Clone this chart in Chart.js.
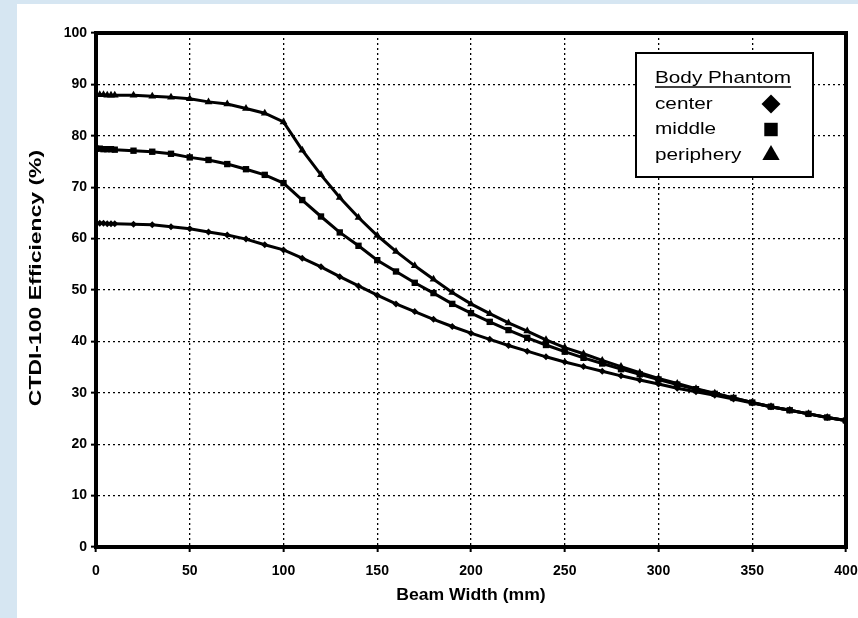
<!DOCTYPE html>
<html>
<head>
<meta charset="utf-8">
<script src="https://cdn.jsdelivr.net/npm/chart.js@4.4.1/dist/chart.umd.min.js"></script>
<style>
  html, body { margin: 0; padding: 0; }
  body { background: #d6e6f2; width: 858px; height: 618px; overflow: hidden; position: relative; }
  #wrap { position: absolute; left: 17px; top: 4px; width: 841px; height: 614px; background: #fff; }
</style>
</head>
<body>
<div id="wrap"><canvas id="ctdiChart" width="841" height="614"></canvas></div>
<script>
// Beam width (mm) sample positions
const beamWidth = [0, 2, 4, 6, 8, 10, 20, 30, 40, 50, 60, 70, 80, 90, 100, 110, 120, 130, 140, 150,
    160, 170, 180, 190, 200, 210, 220, 230, 240, 250, 260, 270, 280, 290, 300, 310, 320, 330, 340,
    350, 360, 370, 380, 390, 400];

// CTDI-100 efficiency (%)
const centerEff = [63.0, 63.0, 63.0, 62.9, 62.9, 62.9, 62.8, 62.7, 62.3, 61.9, 61.3, 60.7, 59.9, 58.8, 57.8,
    56.2, 54.5, 52.6, 50.8, 49.0, 47.3, 45.8, 44.3, 42.9, 41.6, 40.4, 39.2, 38.1, 37.0, 36.0,
    35.1, 34.2, 33.3, 32.5, 31.7, 30.9, 30.2, 29.5, 28.8, 28.0, 27.3, 26.6, 25.9, 25.2, 24.6];
const middleEff = [77.5, 77.5, 77.4, 77.4, 77.4, 77.3, 77.1, 76.9, 76.5, 75.8, 75.3, 74.5, 73.5, 72.4, 70.8,
    67.5, 64.3, 61.2, 58.6, 55.8, 53.6, 51.4, 49.4, 47.3, 45.5, 43.8, 42.2, 40.7, 39.3, 38.0,
    36.8, 35.7, 34.6, 33.6, 32.6, 31.6, 30.7, 29.8, 29.0, 28.1, 27.3, 26.6, 25.9, 25.2, 24.6];
const peripheryEff = [88.0, 88.0, 88.0, 87.9, 87.9, 87.9, 87.9, 87.7, 87.5, 87.2, 86.6, 86.2, 85.3, 84.4, 82.7,
    77.2, 72.4, 68.0, 64.1, 60.6, 57.5, 54.7, 52.1, 49.5, 47.3, 45.4, 43.6, 42.0, 40.3, 38.8,
    37.6, 36.3, 35.1, 33.9, 32.8, 31.8, 30.8, 29.9, 29.0, 28.1, 27.3, 26.6, 25.9, 25.2, 24.6];

const seriesNames = ['center', 'middle', 'periphery'];
const legendTitle = 'Body Phantom';
const xTitle = 'Beam Width (mm)';
const yTitle = 'CTDI-100 Efficiency (%)';

const toPoints = vals => vals.map((v, i) => ({ x: beamWidth[i], y: v }));
const markers = ['rectRot', 'rect', 'triangle'];
const FONT = '"Liberation Sans", Arial, sans-serif';

const makeSet = (label, vals, style, r) => ({
    label: label,
    data: toPoints(vals),
    borderColor: '#000',
    backgroundColor: '#000',
    borderWidth: 3,
    pointStyle: style,
    pointRadius: r,
    pointBorderWidth: 0,
    tension: 0
});

// draw text stretched along its baseline (the original uses a wide face)
function wideText(ctx, text, x, y, sx) {
    ctx.save();
    ctx.translate(x, y);
    ctx.scale(sx, 1);
    ctx.fillText(text, 0, 0);
    ctx.restore();
}

// frame around plot, axis titles and the legend box
const framePlugin = {
    id: 'frameAndLegend',
    afterDraw(chart) {
        const { ctx, chartArea: a } = chart;
        ctx.save();
        ctx.strokeStyle = '#000';
        ctx.lineWidth = 4;
        ctx.strokeRect(a.left, a.top, a.right - a.left, a.bottom - a.top);

        // axis titles
        ctx.fillStyle = '#000';
        ctx.textAlign = 'center';
        ctx.textBaseline = 'middle';
        ctx.font = 'bold 16px ' + FONT;
        wideText(ctx, xTitle, (a.left + a.right) / 2, a.bottom + 49, 1.1);
        ctx.save();
        ctx.translate(19, (a.top + a.bottom) / 2 - 12);
        ctx.rotate(-Math.PI / 2);
        ctx.font = 'bold 17px ' + FONT;
        wideText(ctx, yTitle, 0, 0, 1.35);
        ctx.restore();

        // legend box
        const bx = a.right - 210, by = a.top + 20, bw = 177, bh = 124;
        ctx.fillStyle = '#fff';
        ctx.fillRect(bx, by, bw, bh);
        ctx.lineWidth = 2;
        ctx.strokeRect(bx, by, bw, bh);

        ctx.fillStyle = '#000';
        ctx.textAlign = 'left';
        ctx.font = '17px ' + FONT;
        ctx.textBaseline = 'alphabetic';
        const sx = 1.22;
        wideText(ctx, legendTitle, bx + 19, by + 30, sx);
        const tw = ctx.measureText(legendTitle).width * sx;
        ctx.lineWidth = 1.3;
        ctx.beginPath();
        ctx.moveTo(bx + 19, by + 34);
        ctx.lineTo(bx + 19 + tw, by + 34);
        ctx.stroke();

        ctx.textBaseline = 'middle';
        const legendR = [9.5, 9.5, 10];
        seriesNames.forEach((name, i) => {
            const y = by + 51 + i * 25.5;
            wideText(ctx, name, bx + 19, y, sx);
            Chart.helpers.drawPoint(ctx, {
                pointStyle: markers[i], radius: legendR[i], borderWidth: 0, rotation: 0
            }, bx + 135, y);
        });
        ctx.restore();
    }
};

const tickFont = { family: FONT, size: 14, weight: 'bold' };

new Chart(document.getElementById('ctdiChart'), {
    type: 'line',
    data: {
        datasets: [
            makeSet(seriesNames[0], centerEff, markers[0], 3.5),
            makeSet(seriesNames[1], middleEff, markers[1], 4.5),
            makeSet(seriesNames[2], peripheryEff, markers[2], 4.5)
        ]
    },
    options: {
        responsive: false,
        animation: false,
        layout: { padding: { top: 29, right: 12, left: 0, bottom: 0 } },
        plugins: {
            legend: { display: false },
            tooltip: { enabled: false }
        },
        scales: {
            x: {
                type: 'linear',
                min: 0,
                max: 400,
                ticks: { stepSize: 50, color: '#000', font: tickFont, padding: 11 },
                grid: { color: '#000', lineWidth: 1.3, tickLength: 5, tickColor: '#000', tickWidth: 2 },
                border: { display: true, color: '#000', width: 4, dash: [2, 3] },
                afterFit(scale) {
                    scale.height = 71;
                    scale.paddingLeft = 0;
                    scale.paddingRight = 0;
                }
            },
            y: {
                min: 0,
                max: 100,
                ticks: { stepSize: 10, color: '#000', font: tickFont, padding: 4 },
                grid: { color: '#000', lineWidth: 1.3, tickLength: 5, tickColor: '#000', tickWidth: 2 },
                border: { display: true, color: '#000', width: 4, dash: [2, 3] },
                afterFit(scale) {
                    scale.width = 79;
                    scale.paddingTop = 0;
                    scale.paddingBottom = 0;
                }
            }
        }
    },
    plugins: [framePlugin]
});
</script>
</body>
</html>
